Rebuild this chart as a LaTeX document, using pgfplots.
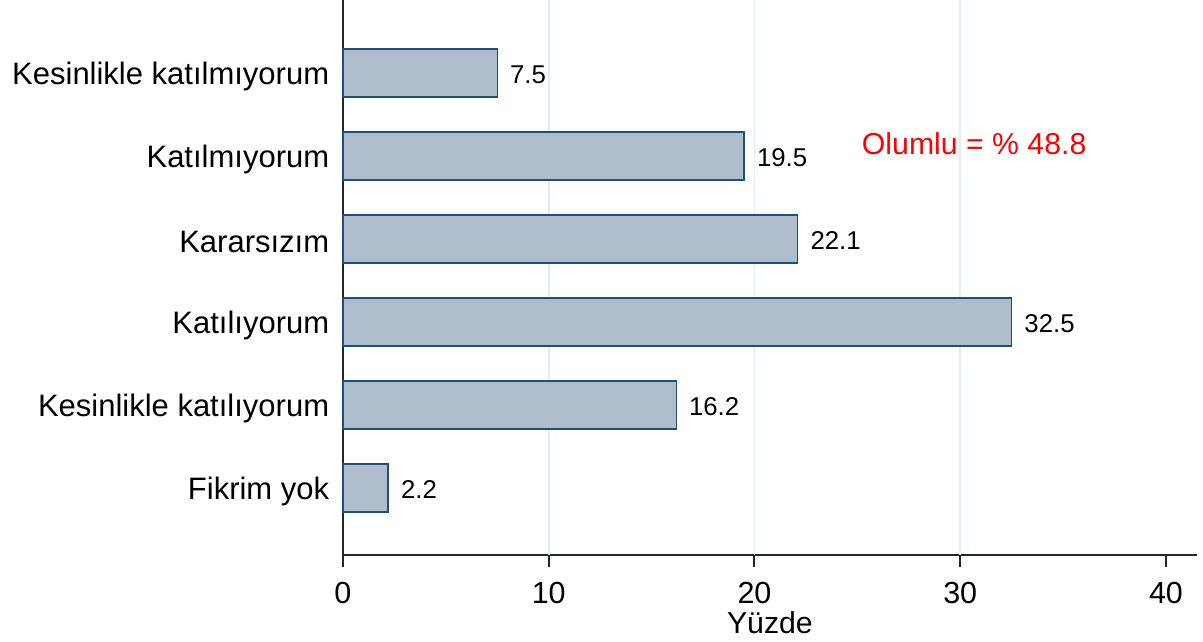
\documentclass[border=0pt]{standalone}
\usepackage{fontspec}
\setmainfont{Liberation Sans}
\usepackage{pgfplots}
\pgfplotsset{compat=1.18}

\definecolor{barfill}{HTML}{AEBDCB}
\definecolor{baredge}{HTML}{1F4E79}
\definecolor{gridc}{HTML}{E2EBEE}

\begin{document}
\begin{tikzpicture}
\begin{axis}[
  name=ax,
  xbar,
  scale only axis,
  width=341.6pt, height=222pt,
  xmin=0, xmax=41.5,
  ymin=-0.807, ymax=5.88,
  axis x line=bottom, axis y line=left,
  axis line style={-, line width=0.8pt, black!85},
  xtick={0,10,20,30,40},
  extra x ticks={10,20,30},
  extra x tick style={grid=major, xticklabels={}, major tick length=0pt},
  grid style={gridc, line width=0.7pt},
  ytick={0,1,2,3,4,5},
  yticklabels={Fikrim yok, Kesinlikle katılıyorum, Katılıyorum, Kararsızım, Katılmıyorum, Kesinlikle katılmıyorum},
  y tick label style={font=\fontsize{12.4}{14}\selectfont, xshift=2.8pt, yshift=-1.3pt},
  x tick label style={font=\fontsize{12.2}{14}\selectfont, inner sep=0.5pt, yshift=-5.4pt},
  /pgf/number format/assume math mode=true,
  xtick style={line width=0.8pt, black!85},
  ytick style={draw=none},
  tick align=outside,
  major tick length=4.8pt,
  bar width=19.2pt,
  clip=false,
  nodes near coords={\pgfmathprintnumber[fixed,precision=1,fixed zerofill]{\pgfplotspointmeta}},
  nodes near coords align=horizontal,
  every node near coord/.append style={font=\fontsize{10.3}{12}\selectfont, black, xshift=1.5pt, yshift=-0.6pt},
  xlabel={Yüzde},
  xlabel style={at={(axis description cs:0.5,-0.102)}, anchor=north, font=\fontsize{12.1}{14}\selectfont, inner sep=0pt},
]
\addplot[fill=barfill, draw=baredge, line width=0.6pt] coordinates {
  (2.2,0) (16.2,1) (32.5,2) (22.1,3) (19.5,4) (7.5,5)
};
\node[anchor=west, red, font=\fontsize{12.1}{14}\selectfont, inner sep=0pt] at (axis cs:25.2,4.15) {Olumlu = \% 48.8};
\coordinate (bl) at (axis cs:-16.67,-1.855);
\coordinate (tr) at (axis cs:41.8,5.88);
\end{axis}
\pgfresetboundingbox
\path[use as bounding box] (bl) rectangle (tr);
\end{tikzpicture}
\end{document}
